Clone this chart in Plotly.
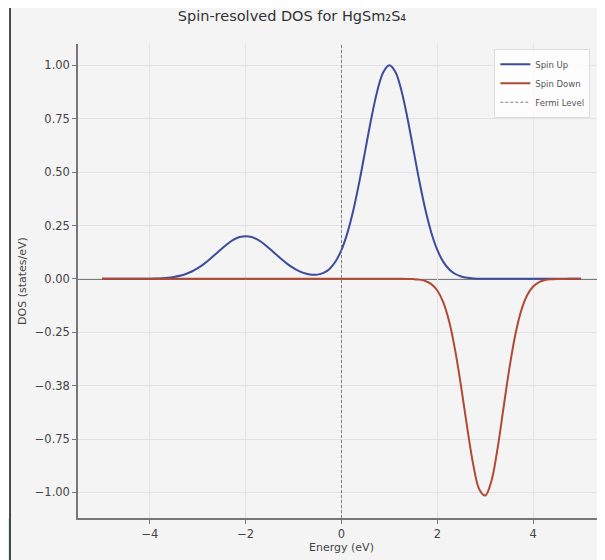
import plotly.graph_objects as go

# Data (energy in eV, DOS in states/eV)
energy = [-5.0, -4.875, -4.75, -4.625, -4.5, -4.375, -4.25, -4.125, -4.0, -3.875,
          -3.75, -3.625, -3.5, -3.375, -3.25, -3.125, -3.0, -2.875, -2.75, -2.625,
          -2.5, -2.375, -2.25, -2.125, -2.0, -1.875, -1.75, -1.625, -1.5, -1.375,
          -1.25, -1.125, -1.0, -0.875, -0.75, -0.625, -0.5, -0.375, -0.25, -0.125,
          0.0, 0.125, 0.25, 0.375, 0.5, 0.625, 0.75, 0.875, 1.0, 1.125,
          1.25, 1.375, 1.5, 1.625, 1.75, 1.875, 2.0, 2.125, 2.25, 2.375,
          2.5, 2.625, 2.75, 2.875, 3.0, 3.125, 3.25, 3.375, 3.5, 3.625,
          3.75, 3.875, 4.0, 4.125, 4.25, 4.375, 4.5, 4.625, 4.75, 4.875, 5.0]
spin_up = [0.0, 0.0, 0.0, 0.0, 0.0, 0.0001, 0.0002, 0.0004, 0.0008, 0.0015,
           0.0028, 0.0051, 0.0088, 0.0145, 0.0228, 0.0345, 0.0499, 0.0691, 0.0916, 0.1163,
           0.1413, 0.1645, 0.1834, 0.1957, 0.2000, 0.1957, 0.1834, 0.1645, 0.1413, 0.1163,
           0.0916, 0.0692, 0.0502, 0.0354, 0.0250, 0.0196, 0.0199, 0.0279, 0.0467, 0.0811,
           0.1361, 0.2167, 0.3249, 0.4579, 0.6065, 0.7548, 0.8825, 0.9692, 1.0000, 0.9692,
           0.8825, 0.7548, 0.6065, 0.4578, 0.3247, 0.2163, 0.1353, 0.0796, 0.0439, 0.0228,
           0.0111, 0.0051, 0.0022, 0.0009, 0.0003, 0.0001, 0.0, 0.0, 0.0, 0.0,
           0.0, 0.0, 0.0, 0.0, 0.0, 0.0, 0.0, 0.0, 0.0, 0.0, 0.0]
spin_down = [0.0, 0.0, 0.0, 0.0, 0.0, 0.0, 0.0, 0.0, 0.0, 0.0,
             0.0, 0.0, 0.0, 0.0, 0.0, 0.0, 0.0, 0.0, 0.0, 0.0,
             0.0, 0.0, 0.0, 0.0, 0.0, 0.0, 0.0, 0.0, 0.0, 0.0,
             0.0, 0.0, 0.0, 0.0, 0.0, 0.0, 0.0, 0.0, 0.0, 0.0,
             0.0, 0.0, 0.0, 0.0, 0.0, 0.0, 0.0, 0.0, 0.0, 0.0,
             0.0, -0.0004, -0.0012, -0.0036, -0.0100, -0.0245, -0.0545, -0.1100, -0.2020, -0.3370,
             -0.5100, -0.6980, -0.8700, -0.9850, -1.0150, -0.9500, -0.8050, -0.6150, -0.4250, -0.2650,
             -0.1500, -0.0770, -0.0360, -0.0150, -0.0058, -0.0020, -0.0006, -0.0002, 0.0, 0.0, 0.0]
y_tickvals = [1.0, 0.75, 0.5, 0.25, 0.0, -0.25, -0.5, -0.75, -1.0]
y_ticktext = ["1.00", "0.75", "0.50", "0.25", "0.00", "\u22120.25", "\u22120.38", "\u22120.75", "\u22121.00"]
x_tickvals = [-4, -2, 0, 2, 4]
x_ticktext = ["\u22124", "\u22122", "0", "2", "4"]
fermi_level = 0.0
y_range = [-1.12, 1.10]
x_range = [-5.5, 5.5]

BG = "#f4f4f4"
FONT = "DejaVu Sans"

fig = go.Figure()
fig.add_trace(go.Scatter(x=energy, y=spin_up, mode="lines", name="Spin Up",
                         line=dict(color="#3c4c9c", width=2, shape="spline", smoothing=1.0)))
fig.add_trace(go.Scatter(x=energy, y=spin_down, mode="lines", name="Spin Down",
                         line=dict(color="#b04a35", width=2, shape="spline", smoothing=1.0)))
fig.add_trace(go.Scatter(x=[fermi_level, fermi_level], y=y_range, mode="lines", name="Fermi Level",
                         line=dict(color="#808080", width=1, dash="3px,2px")))

# horizontal zero line
fig.add_shape(type="line", xref="paper", yref="y", x0=0, x1=1, y0=0, y1=0,
              line=dict(color="#555555", width=1.8), layer="below")

# frame decorations of the picture (left strip and border)
fig.add_shape(type="rect", xref="paper", yref="paper", x0=-0.2, x1=-0.129, y0=-0.2, y1=1.2,
              fillcolor="white", line=dict(width=0), layer="below")
fig.add_shape(type="rect", xref="paper", yref="paper", x0=-0.2, x1=-0.129, y0=-0.1, y1=0.0,
              fillcolor="#c9f3fb", line=dict(width=0), layer="below")
fig.add_shape(type="line", xref="paper", yref="paper", x0=-0.129, x1=-0.129, y0=-0.1, y1=1.1,
              line=dict(color="#111111", width=1.5))

fig.update_layout(
    width=597, height=552,
    margin=dict(l=70, r=0, t=36, b=42, autoexpand=False),
    paper_bgcolor=BG, plot_bgcolor=BG,
    font=dict(family=FONT, color="#444444", size=11),
    title=dict(text="Spin-resolved DOS for HgSm\u2082S\u2084", x=0.406, xref="paper", xanchor="center",
               y=0.9855, yref="container", yanchor="middle",
               font=dict(family=FONT, size=14.5, color="#333333")),
    legend=dict(x=0.79, xanchor="left", y=0.99, yanchor="top",
                bgcolor="rgba(255,255,255,0.8)", bordercolor="#dddddd", borderwidth=1,
                font=dict(size=8.5, color="#555555"), tracegroupgap=0, itemwidth=30),
    showlegend=True,
)
fig.update_xaxes(range=x_range, tickvals=x_tickvals, ticktext=x_ticktext, automargin=False,
                 showgrid=True, gridcolor="#e2e2e2", gridwidth=1, zeroline=False,
                 showline=True, linecolor="#777777", linewidth=1.5, mirror=False,
                 ticks="outside", ticklen=4, tickcolor="#777777",
                 tickfont=dict(size=11.5, color="#444444"),
                 title=dict(text="Energy (eV)", font=dict(size=11, color="#444444"), standoff=4))
fig.update_yaxes(range=y_range, tickvals=y_tickvals, ticktext=y_ticktext, automargin=False,
                 showgrid=True, gridcolor="#e2e2e2", gridwidth=1, zeroline=False,
                 showline=True, linecolor="#777777", linewidth=1.5, mirror=False,
                 ticks="outside", ticklen=4, tickcolor="#777777",
                 tickfont=dict(size=11.5, color="#444444"),
                 title=dict(text="DOS (states/eV)", font=dict(size=11, color="#444444"), standoff=6))

fig.write_html("out.html")
